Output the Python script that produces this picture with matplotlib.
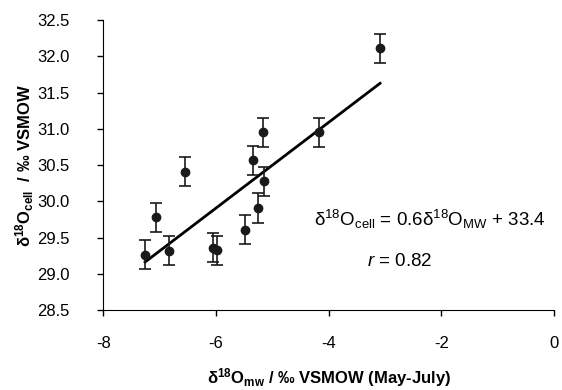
import numpy as np
import matplotlib.pyplot as plt

plt.rcParams['font.family'] = ['Liberation Sans', 'DejaVu Sans']
plt.rcParams['mathtext.fontset'] = 'custom'
plt.rcParams['mathtext.rm'] = 'Liberation Sans'
plt.rcParams['mathtext.it'] = 'Liberation Sans:italic'
plt.rcParams['mathtext.bf'] = 'Liberation Sans:bold'
plt.rcParams['axes.unicode_minus'] = False

# meteoric water d18O (x) vs cellulose d18O (y)
d18O_mw = [-7.26, -7.06, -6.83, -6.55, -6.05, -5.99, -5.48, -5.34, -5.25, -5.17, -5.15, -4.18, -3.09]
d18O_cell = [29.27, 29.78, 29.32, 30.41, 29.36, 29.33, 29.61, 30.57, 29.91, 30.95, 30.28, 30.95, 32.11]
err = [0.2] * 13

# regression line as drawn
slope = 0.59
intercept = 33.45

fig = plt.figure(figsize=(5.62, 3.9), dpi=100)
ax = fig.add_axes([0.184, 0.204, 0.802, 0.745])

ax.errorbar(d18O_mw, d18O_cell, yerr=err, fmt='o', color='#1a1a1a', markersize=6,
            ecolor='#1a1a1a', elinewidth=1.2, capsize=4.5, capthick=1.2, zorder=3)

xs = np.array([min(d18O_mw), max(d18O_mw)])
ax.plot(xs, slope * xs + intercept, color='black', linewidth=2, zorder=2)

ax.set_xlim(-8, 0)
ax.set_ylim(28.5, 32.5)
ax.set_xticks([-8, -6, -4, -2, 0])
ax.set_yticks(np.arange(28.5, 32.6, 0.5))
ax.set_yticklabels(['%.1f' % v for v in np.arange(28.5, 32.6, 0.5)])
ax.tick_params(labelsize=12, direction='out', length=4.5, width=1)
ax.tick_params(axis='x', pad=14)
ax.tick_params(axis='y', pad=20)
ax.spines['top'].set_visible(False)
ax.spines['right'].set_visible(False)

ax.set_xlabel('δ$^{\\mathbf{18}}$O$_{\\mathbf{mw}}$ / ‰ VSMOW (May-July)',
              fontsize=12, fontweight='bold')
ax.set_ylabel('δ$^{\\mathbf{18}}$O$_{\\mathbf{cell}}$  / ‰ VSMOW',
              fontsize=12, fontweight='bold')
ax.xaxis.set_label_coords(0.5, -0.19)
ax.yaxis.set_label_coords(-0.15, 0.5)

ax.text(-2.2, 29.75, 'δ$^{18}$O$_{\\rm cell}$ = 0.6δ$^{18}$O$_{\\rm MW}$ + 33.4',
        fontsize=13.5, ha='center', va='center')
ax.text(-2.75, 29.17, '$r$ = 0.82', fontsize=13.5, ha='center', va='center')

fig.savefig('out.png', dpi=100)
